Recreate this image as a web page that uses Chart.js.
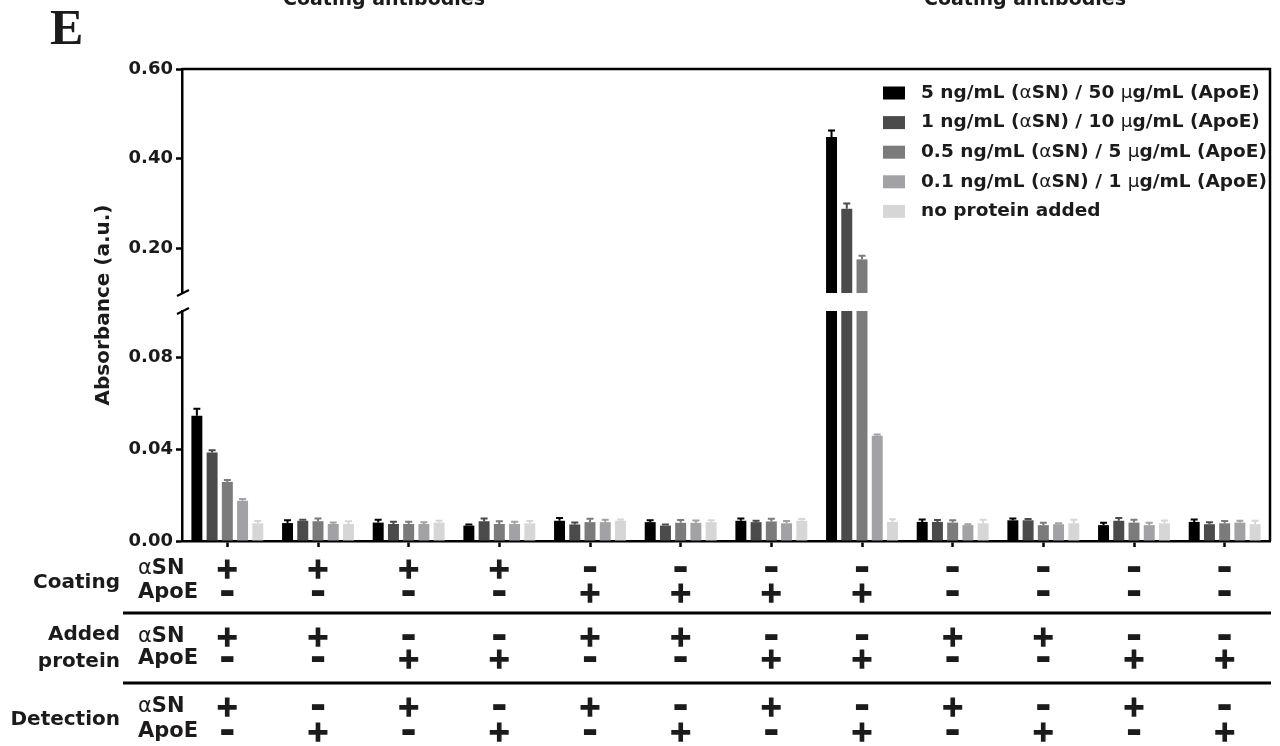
<!DOCTYPE html>
<html lang="en">
<head>
<meta charset="UTF-8">
<script src="https://cdn.jsdelivr.net/npm/chart.js"></script>
<style>
    body { margin: 0; background: #fff; }
    #wrap { width: 1280px; height: 746px; position: relative; }
</style>
<title>Absorbance ELISA</title>
</head>
<body>
<div id="wrap"><canvas id="chart"></canvas></div>
<script>
    // groups (12 coating / added / detection combinations)
    const groups = ['1', '2', '3', '4', '5', '6', '7', '8', '9', '10', '11', '12'];

    const seriesLabels = [
        '5 ng/mL (αSN) / 50 µg/mL (ApoE)',
        '1 ng/mL (αSN) / 10 µg/mL (ApoE)',
        '0.5 ng/mL (αSN) / 5 µg/mL (ApoE)',
        '0.1 ng/mL (αSN) / 1 µg/mL (ApoE)',
        'no protein added'
    ];
    const seriesColors = ['#000000', '#4b4b4b', '#7b7b7b', '#a2a2a6', '#d6d6d6'];

    // absorbance values
    const conc5   = [0.0545, 0.0078, 0.0080, 0.0067, 0.0088, 0.0082, 0.0088, 0.448, 0.0083, 0.0090, 0.0069, 0.0083];
    const conc1   = [0.0385, 0.0088, 0.0074, 0.0086, 0.0072, 0.0067, 0.0082, 0.288, 0.0083, 0.0090, 0.0088, 0.0073];
    const conc05  = [0.0257, 0.0086, 0.0074, 0.0074, 0.0082, 0.0079, 0.0085, 0.175, 0.0080, 0.0069, 0.0080, 0.0077];
    const conc01  = [0.0175, 0.0074, 0.0074, 0.0074, 0.0082, 0.0079, 0.0077, 0.0458, 0.0069, 0.0073, 0.0069, 0.0080];
    const noProt  = [0.0077, 0.0074, 0.0080, 0.0077, 0.0088, 0.0082, 0.0088, 0.0083, 0.0077, 0.0077, 0.0077, 0.0073];

    // error bars (upper half only)
    const err5    = [0.0030, 0.0012, 0.0012, 0.0005, 0.0012, 0.0008, 0.0010, 0.015, 0.0010, 0.0008, 0.0010, 0.0010];
    const err1    = [0.0010, 0.0004, 0.0010, 0.0012, 0.0008, 0.0005, 0.0006, 0.012, 0.0008, 0.0006, 0.0012, 0.0008];
    const err05   = [0.0008, 0.0012, 0.0010, 0.0012, 0.0015, 0.0012, 0.0012, 0.008, 0.0010, 0.0010, 0.0012, 0.0010];
    const err01   = [0.0008, 0.0006, 0.0008, 0.0010, 0.0010, 0.0010, 0.0010, 0.0005, 0.0004, 0.0004, 0.0010, 0.0008];
    const errNone = [0.0010, 0.0012, 0.0008, 0.0010, 0.0006, 0.0008, 0.0008, 0.0012, 0.0015, 0.0015, 0.0012, 0.0015];

    const values = [conc5, conc1, conc05, conc01, noProt];
    const errors = [err5, err1, err05, err01, errNone];

    // broken y axis
    const LOW_MAX = 0.10;
    const HIGH_MAX = 0.60;
    const lowTicks = [0.00, 0.04, 0.08];
    const highTicks = [0.20, 0.40, 0.60];

    // condition table under the axis
    const coatingSN    = ['+', '+', '+', '+', '-', '-', '-', '-', '-', '-', '-', '-'];
    const coatingApoE  = ['-', '-', '-', '-', '+', '+', '+', '+', '-', '-', '-', '-'];
    const addedSN      = ['+', '+', '-', '-', '+', '+', '-', '-', '+', '+', '-', '-'];
    const addedApoE    = ['-', '-', '+', '+', '-', '-', '+', '+', '-', '-', '+', '+'];
    const detectionSN  = ['+', '-', '+', '-', '+', '-', '+', '-', '+', '-', '+', '-'];
    const detectionApoE= ['-', '+', '-', '+', '-', '+', '-', '+', '-', '+', '-', '+'];

    const FONT = '"DejaVu Sans", sans-serif';
    const INK = '#1c1a1b';
    const AXIS_W = 182;

    const datasets = [];
    values.forEach((vals, i) => {
        datasets.push({
            label: seriesLabels[i],
            data: vals.map(v => Math.min(v, LOW_MAX)),
            backgroundColor: seriesColors[i],
            yAxisID: 'yLow',
            stack: 's' + i,
            categoryPercentage: 0.84,
            barPercentage: 0.72
        });
    });
    values.forEach((vals, i) => {
        datasets.push({
            label: seriesLabels[i] + ' (upper)',
            data: vals.map(v => v > LOW_MAX ? v : null),
            base: LOW_MAX,
            backgroundColor: seriesColors[i],
            yAxisID: 'yHigh',
            stack: 's' + i,
            categoryPercentage: 0.84,
            barPercentage: 0.72
        });
    });

    // text with thin greek letters, like the original
    function drawMixed(ctx, text, x, y, size) {
        const parts = text.split(/([αµ])/).filter(p => p.length);
        let cx = x;
        ctx.textAlign = 'left';
        parts.forEach(p => {
            ctx.font = (p === 'α' || p === 'µ') ? `${size}px ${FONT}` : `bold ${size}px ${FONT}`;
            ctx.fillText(p, cx, y);
            cx += ctx.measureText(p).width;
        });
    }

    function drawSign(ctx, s, x, y) {
        ctx.font = s === '+' ? `bold 28px ${FONT}` : `bold 40px ${FONT}`;
        ctx.textAlign = 'center';
        ctx.textBaseline = 'alphabetic';
        const m = ctx.measureText(s);
        const yy = y + (m.actualBoundingBoxAscent - m.actualBoundingBoxDescent) / 2;
        ctx.fillText(s, x, yy);
        if (s === '+') {
            ctx.lineWidth = 1.4;
            ctx.strokeStyle = INK;
            ctx.strokeText(s, x, yy);
        }
    }

    const errorBars = {
        id: 'errorBars',
        afterDatasetsDraw(chart) {
            const ctx = chart.ctx;
            ctx.save();
            values.forEach((vals, i) => {
                const meta = chart.getDatasetMeta(i);
                vals.forEach((v, j) => {
                    const scale = v > LOW_MAX ? chart.scales.yHigh : chart.scales.yLow;
                    const x = meta.data[j].x;
                    const y0 = scale.getPixelForValue(v);
                    const y1 = scale.getPixelForValue(v + errors[i][j]);
                    ctx.strokeStyle = seriesColors[i];
                    ctx.lineWidth = 2;
                    ctx.beginPath();
                    ctx.moveTo(x, y0);
                    ctx.lineTo(x, y1);
                    ctx.moveTo(x - 3.5, y1);
                    ctx.lineTo(x + 3.5, y1);
                    ctx.stroke();
                });
            });
            ctx.restore();
        }
    };

    const decorations = {
        id: 'decorations',
        afterDraw(chart) {
            const ctx = chart.ctx;
            const area = chart.chartArea;
            const xs = chart.scales.x;
            const hi = chart.scales.yHigh;
            const lo = chart.scales.yLow;
            ctx.save();
            ctx.fillStyle = INK;
            ctx.strokeStyle = '#000';

            // panel letter and cut-off headings
            ctx.font = 'bold 50px "Liberation Serif", serif';
            ctx.textAlign = 'left';
            ctx.textBaseline = 'alphabetic';
            ctx.fillText('E', 50, 44);
            ctx.font = `bold 19px ${FONT}`;
            ctx.fillText('Coating antibodies', 283, 5);
            ctx.fillText('Coating antibodies', 924, 5);

            // frame: top and right
            ctx.lineWidth = 2.5;
            ctx.beginPath();
            ctx.moveTo(area.left, area.top);
            ctx.lineTo(area.right, area.top);
            ctx.lineTo(area.right, area.bottom);
            ctx.stroke();

            // axis break marks
            ctx.lineWidth = 2;
            [hi.bottom, lo.top].forEach(y => {
                ctx.beginPath();
                ctx.moveTo(area.left - 5, y + 3);
                ctx.lineTo(area.left + 7, y - 3);
                ctx.stroke();
            });

            // y axis title
            ctx.save();
            ctx.translate(104, (area.top + area.bottom) / 2);
            ctx.rotate(-Math.PI / 2);
            ctx.font = `bold 20px ${FONT}`;
            ctx.textAlign = 'center';
            ctx.textBaseline = 'middle';
            ctx.fillText('Absorbance (a.u.)', 0, 0);
            ctx.restore();

            // legend
            ctx.textBaseline = 'middle';
            seriesLabels.forEach((lab, i) => {
                const y = 93 + i * 29.6;
                ctx.fillStyle = seriesColors[i];
                ctx.fillRect(883, y - 6.5, 22, 13);
                ctx.fillStyle = INK;
                drawMixed(ctx, lab, 921, y, 18.5);
            });

            // condition table
            const rowLabels = [
                {text: 'Coating', y: 583},
                {text: 'Added', y: 635},
                {text: 'protein', y: 662},
                {text: 'Detection', y: 720}
            ];
            ctx.font = `bold 20px ${FONT}`;
            ctx.textAlign = 'right';
            ctx.textBaseline = 'middle';
            rowLabels.forEach(r => ctx.fillText(r.text, 120, r.y));

            const rows = [
                {name: 'αSN', y: 569, signs: coatingSN},
                {name: 'ApoE', y: 593, signs: coatingApoE},
                {name: 'αSN', y: 637, signs: addedSN},
                {name: 'ApoE', y: 659, signs: addedApoE},
                {name: 'αSN', y: 707, signs: detectionSN},
                {name: 'ApoE', y: 732, signs: detectionApoE}
            ];
            rows.forEach(r => {
                ctx.textBaseline = 'middle';
                drawMixed(ctx, r.name, 138, r.y, 21);
                r.signs.forEach((s, j) => drawSign(ctx, s, xs.getPixelForValue(j), r.y));
            });

            ctx.lineWidth = 3;
            ctx.strokeStyle = '#000';
            [613, 683].forEach(y => {
                ctx.beginPath();
                ctx.moveTo(123, y);
                ctx.lineTo(area.right + 1, y);
                ctx.stroke();
            });
            ctx.restore();
        }
    };

    const yTickFont = {family: FONT, size: 18, weight: 'bold'};

    new Chart(document.getElementById('chart'), {
        type: 'bar',
        data: {labels: groups, datasets: datasets},
        options: {
            responsive: true,
            maintainAspectRatio: false,
            animation: false,
            layout: {padding: {left: 0, right: 10, top: 69, bottom: 199}},
            plugins: {
                legend: {display: false},
                tooltip: {enabled: false}
            },
            scales: {
                x: {
                    offset: true,
                    grid: {offset: false, drawOnChartArea: false, drawTicks: true, tickLength: 6, tickWidth: 2.5, tickColor: '#000'},
                    border: {color: '#000', width: 2.5},
                    ticks: {display: false},
                    afterFit: s => { s.height = 6; }
                },
                yLow: {
                    type: 'linear',
                    position: 'left',
                    stack: 'y',
                    stackWeight: 230,
                    stacked: false,
                    min: 0,
                    max: LOW_MAX,
                    afterBuildTicks: s => { s.ticks = lowTicks.map(v => ({value: v})); },
                    afterFit: s => { s.width = AXIS_W; },
                    ticks: {color: INK, font: yTickFont, padding: 3, callback: v => v.toFixed(2)},
                    grid: {drawOnChartArea: false, tickLength: 6, tickWidth: 2.5, tickColor: '#000'},
                    border: {color: '#000', width: 2.5}
                },
                yGap: {
                    type: 'linear',
                    position: 'left',
                    stack: 'y',
                    stackWeight: 18,
                    min: 0,
                    max: 1,
                    afterFit: s => { s.width = AXIS_W; },
                    ticks: {display: false},
                    grid: {display: false},
                    border: {display: false}
                },
                yHigh: {
                    type: 'linear',
                    position: 'left',
                    stack: 'y',
                    stackWeight: 224,
                    stacked: false,
                    min: LOW_MAX,
                    max: HIGH_MAX,
                    afterBuildTicks: s => { s.ticks = highTicks.map(v => ({value: v})); },
                    afterFit: s => { s.width = AXIS_W; },
                    ticks: {color: INK, font: yTickFont, padding: 3, callback: v => v.toFixed(2)},
                    grid: {drawOnChartArea: false, tickLength: 6, tickWidth: 2.5, tickColor: '#000'},
                    border: {color: '#000', width: 2.5}
                }
            }
        },
        plugins: [errorBars, decorations]
    });
</script>
</body>
</html>
